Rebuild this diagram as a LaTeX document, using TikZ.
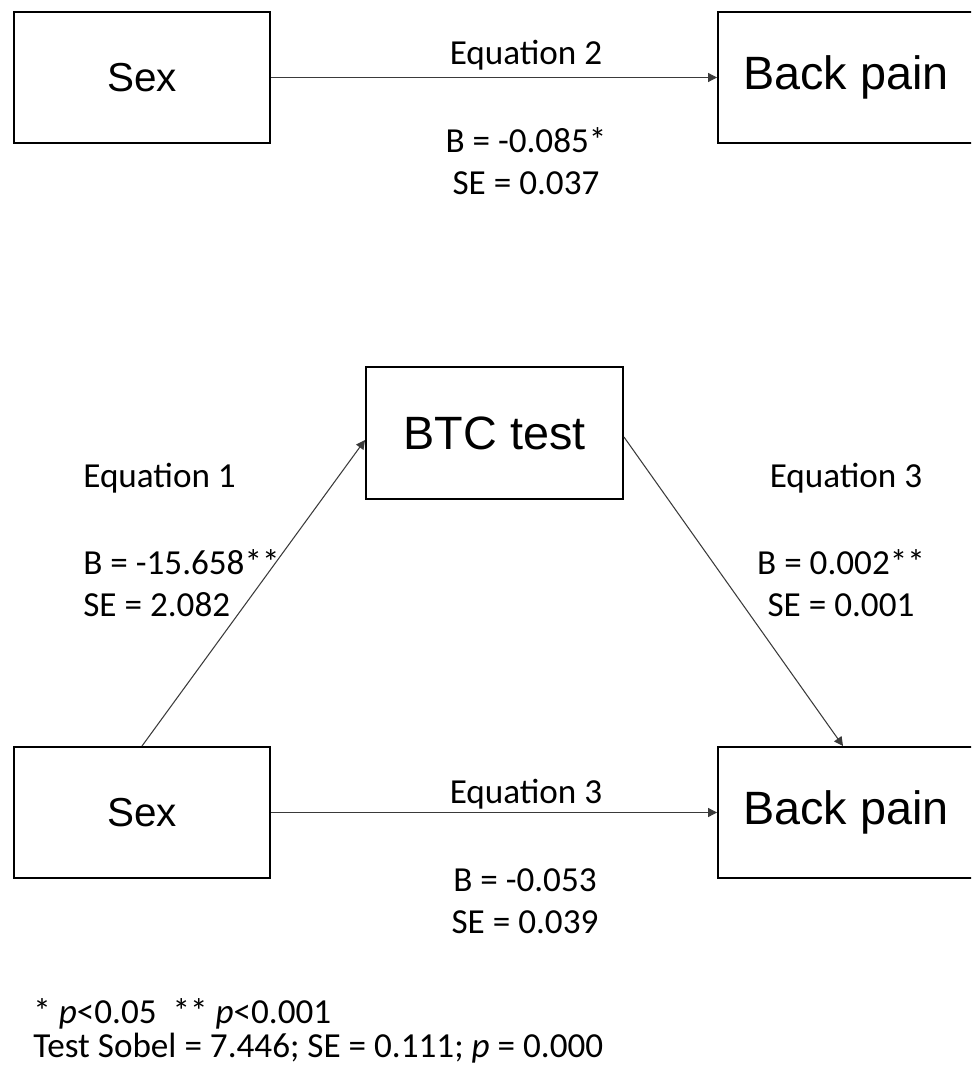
\documentclass[tikz,border=0pt]{standalone}
\usepackage{fontspec}
\setmainfont{Carlito}
\newfontfamily\boxfont{Liberation Sans}
\definecolor{pathgray}{HTML}{3A3A3A}
\usetikzlibrary{arrows.meta,positioning}
\tikzset{
    varbox/.style={
        draw=black,
        fill=white,
        line width=1.1pt,
        minimum width=5.12cm,
        minimum height=2.62cm,
        inner sep=0pt,
        align=center,
        font=\boxfont\fontsize{26.6}{30}\selectfont
    },
    smallvarbox/.style={
        varbox,
        font=\boxfont\fontsize{23}{27}\selectfont
    },
    patharrow/.style={
        -{Triangle[length=1.8mm,width=1.8mm]},
        draw=pathgray,
        line width=0.6pt
    },
    eqlabel/.style={
        anchor=base,
        inner sep=0pt,
        font=\fontsize{20}{24}\selectfont
    },
    statlabel/.style={
        anchor=base,
        inner sep=0pt,
        align=center,
        font=\fontsize{20}{23.9}\selectfont
    },
    notelabel/.style={
        anchor=base west,
        inner sep=0pt,
        align=left,
        font=\fontsize{20}{19}\selectfont
    }
}

\begin{document}
\begin{tikzpicture}
        \useasboundingbox (0,0) rectangle (19.42,-21.4);
        \clip (0,0) rectangle (19.42,-21.4);

        % total effect
        \node[smallvarbox] (sextop) at (2.84,-1.55) {Sex};
        \node[varbox] (paintop) at (16.92,-1.55) {Back pain};

        % mediation model
        \node[varbox,minimum width=5.14cm,minimum height=2.64cm] (btc) at (9.89,-8.66) {BTC test};
        \node[smallvarbox] (sexbottom) at (2.84,-16.25) {Sex};
        \node[varbox] (painbottom) at (16.92,-16.25) {Back pain};

        \draw[patharrow] (sextop.east) -- (paintop.west);
        \draw[patharrow] (sexbottom.north) -- ([yshift=-1.4mm]btc.west);
        \draw[patharrow] ([yshift=-0.8mm]btc.east) -- ([xshift=-0.6mm]painbottom.north);
        \draw[patharrow] (sexbottom.east) -- (painbottom.west);

        % coefficients
        \node[eqlabel] (eqtwo) at (10.52,-1.3) {Equation 2};
        \node[statlabel] (stattwo) at (10.52,-3.9) {B = -0.085*\\SE = 0.037};
        \node[eqlabel,anchor=base west] (eqone) at (1.66,-9.74) {Equation 1};
        \node[statlabel,anchor=base west,align=left] (statone) at (1.66,-12.32) {B = -15.658**\\SE = 2.082};
        \node[eqlabel] (eqthree) at (16.92,-9.74) {Equation 3};
        \node[statlabel] (statthree) at (16.82,-12.32) {B = 0.002**\\SE = 0.001};
        \node[eqlabel] (eqdirect) at (10.52,-16.06) {Equation 3};
        \node[statlabel] (statdirect) at (10.5,-18.66) {B = -0.053\\SE = 0.039};

        % significance and Sobel test
        \node[notelabel] (notes) at (0.66,-21.14)
            {* \textit{p}<0.05~~** \textit{p}<0.001\\Test Sobel = 7.446; SE = 0.111; \textit{p} = 0.000};
    \end{tikzpicture}
\end{document}
